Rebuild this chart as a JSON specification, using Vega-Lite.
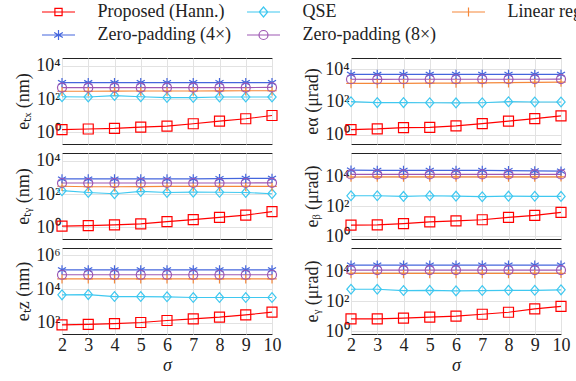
{
  "$schema": "https://vega.github.io/schema/vega-lite/v6.json",
  "padding": {"left": 14, "top": 3, "right": 2, "bottom": 2},
  "background": "white",
  "data": {"values": [
    {"p":"tx","s":2,"m":"Proposed (Hann.)","v":1.45},{"p":"tx","s":3,"m":"Proposed (Hann.)","v":1.6},{"p":"tx","s":4,"m":"Proposed (Hann.)","v":1.73},{"p":"tx","s":5,"m":"Proposed (Hann.)","v":2.07},{"p":"tx","s":6,"m":"Proposed (Hann.)","v":2.4},{"p":"tx","s":7,"m":"Proposed (Hann.)","v":3.3},{"p":"tx","s":8,"m":"Proposed (Hann.)","v":4.7},{"p":"tx","s":9,"m":"Proposed (Hann.)","v":6.6},{"p":"tx","s":10,"m":"Proposed (Hann.)","v":10.4},
    {"p":"tx","s":2,"m":"QSE","v":140},{"p":"tx","s":3,"m":"QSE","v":135},{"p":"tx","s":4,"m":"QSE","v":165},{"p":"tx","s":5,"m":"QSE","v":140},{"p":"tx","s":6,"m":"QSE","v":125},{"p":"tx","s":7,"m":"QSE","v":125},{"p":"tx","s":8,"m":"QSE","v":135},{"p":"tx","s":9,"m":"QSE","v":135},{"p":"tx","s":10,"m":"QSE","v":135},
    {"p":"tx","s":2,"m":"Linear regression","v":300},{"p":"tx","s":3,"m":"Linear regression","v":300},{"p":"tx","s":4,"m":"Linear regression","v":305},{"p":"tx","s":5,"m":"Linear regression","v":310},{"p":"tx","s":6,"m":"Linear regression","v":310},{"p":"tx","s":7,"m":"Linear regression","v":310},{"p":"tx","s":8,"m":"Linear regression","v":315},{"p":"tx","s":9,"m":"Linear regression","v":320},{"p":"tx","s":10,"m":"Linear regression","v":320},
    {"p":"tx","s":2,"m":"Zero-padding (4×)","v":1000},{"p":"tx","s":3,"m":"Zero-padding (4×)","v":980},{"p":"tx","s":4,"m":"Zero-padding (4×)","v":980},{"p":"tx","s":5,"m":"Zero-padding (4×)","v":1000},{"p":"tx","s":6,"m":"Zero-padding (4×)","v":990},{"p":"tx","s":7,"m":"Zero-padding (4×)","v":1000},{"p":"tx","s":8,"m":"Zero-padding (4×)","v":990},{"p":"tx","s":9,"m":"Zero-padding (4×)","v":1000},{"p":"tx","s":10,"m":"Zero-padding (4×)","v":1000},
    {"p":"tx","s":2,"m":"Zero-padding (8×)","v":500},{"p":"tx","s":3,"m":"Zero-padding (8×)","v":490},{"p":"tx","s":4,"m":"Zero-padding (8×)","v":490},{"p":"tx","s":5,"m":"Zero-padding (8×)","v":500},{"p":"tx","s":6,"m":"Zero-padding (8×)","v":500},{"p":"tx","s":7,"m":"Zero-padding (8×)","v":500},{"p":"tx","s":8,"m":"Zero-padding (8×)","v":500},{"p":"tx","s":9,"m":"Zero-padding (8×)","v":500},{"p":"tx","s":10,"m":"Zero-padding (8×)","v":510},

    {"p":"al","s":2,"m":"Proposed (Hann.)","v":2.1},{"p":"al","s":3,"m":"Proposed (Hann.)","v":2.3},{"p":"al","s":4,"m":"Proposed (Hann.)","v":2.77},{"p":"al","s":5,"m":"Proposed (Hann.)","v":2.9},{"p":"al","s":6,"m":"Proposed (Hann.)","v":3.5},{"p":"al","s":7,"m":"Proposed (Hann.)","v":4.8},{"p":"al","s":8,"m":"Proposed (Hann.)","v":6.8},{"p":"al","s":9,"m":"Proposed (Hann.)","v":9.7},{"p":"al","s":10,"m":"Proposed (Hann.)","v":14.2},
    {"p":"al","s":2,"m":"QSE","v":104},{"p":"al","s":3,"m":"QSE","v":92},{"p":"al","s":4,"m":"QSE","v":92},{"p":"al","s":5,"m":"QSE","v":90},{"p":"al","s":6,"m":"QSE","v":88},{"p":"al","s":7,"m":"QSE","v":90},{"p":"al","s":8,"m":"QSE","v":104},{"p":"al","s":9,"m":"QSE","v":100},{"p":"al","s":10,"m":"QSE","v":100},
    {"p":"al","s":2,"m":"Linear regression","v":1350},{"p":"al","s":3,"m":"Linear regression","v":1350},{"p":"al","s":4,"m":"Linear regression","v":1350},{"p":"al","s":5,"m":"Linear regression","v":1400},{"p":"al","s":6,"m":"Linear regression","v":1400},{"p":"al","s":7,"m":"Linear regression","v":1450},{"p":"al","s":8,"m":"Linear regression","v":1500},{"p":"al","s":9,"m":"Linear regression","v":1550},{"p":"al","s":10,"m":"Linear regression","v":1630},
    {"p":"al","s":2,"m":"Zero-padding (4×)","v":4800},{"p":"al","s":3,"m":"Zero-padding (4×)","v":4700},{"p":"al","s":4,"m":"Zero-padding (4×)","v":4750},{"p":"al","s":5,"m":"Zero-padding (4×)","v":4800},{"p":"al","s":6,"m":"Zero-padding (4×)","v":4800},{"p":"al","s":7,"m":"Zero-padding (4×)","v":4750},{"p":"al","s":8,"m":"Zero-padding (4×)","v":4800},{"p":"al","s":9,"m":"Zero-padding (4×)","v":4800},{"p":"al","s":10,"m":"Zero-padding (4×)","v":4800},
    {"p":"al","s":2,"m":"Zero-padding (8×)","v":2400},{"p":"al","s":3,"m":"Zero-padding (8×)","v":2350},{"p":"al","s":4,"m":"Zero-padding (8×)","v":2400},{"p":"al","s":5,"m":"Zero-padding (8×)","v":2400},{"p":"al","s":6,"m":"Zero-padding (8×)","v":2400},{"p":"al","s":7,"m":"Zero-padding (8×)","v":2400},{"p":"al","s":8,"m":"Zero-padding (8×)","v":2400},{"p":"al","s":9,"m":"Zero-padding (8×)","v":2400},{"p":"al","s":10,"m":"Zero-padding (8×)","v":2450},

    {"p":"ty","s":2,"m":"Proposed (Hann.)","v":1.18},{"p":"ty","s":3,"m":"Proposed (Hann.)","v":1.29},{"p":"ty","s":4,"m":"Proposed (Hann.)","v":1.42},{"p":"ty","s":5,"m":"Proposed (Hann.)","v":1.63},{"p":"ty","s":6,"m":"Proposed (Hann.)","v":2.2},{"p":"ty","s":7,"m":"Proposed (Hann.)","v":2.9},{"p":"ty","s":8,"m":"Proposed (Hann.)","v":4},{"p":"ty","s":9,"m":"Proposed (Hann.)","v":5.5},{"p":"ty","s":10,"m":"Proposed (Hann.)","v":8.8},
    {"p":"ty","s":2,"m":"QSE","v":162},{"p":"ty","s":3,"m":"QSE","v":126},{"p":"ty","s":4,"m":"QSE","v":106},{"p":"ty","s":5,"m":"QSE","v":146},{"p":"ty","s":6,"m":"QSE","v":126},{"p":"ty","s":7,"m":"QSE","v":132},{"p":"ty","s":8,"m":"QSE","v":130},{"p":"ty","s":9,"m":"QSE","v":126},{"p":"ty","s":10,"m":"QSE","v":106},
    {"p":"ty","s":2,"m":"Linear regression","v":300},{"p":"ty","s":3,"m":"Linear regression","v":280},{"p":"ty","s":4,"m":"Linear regression","v":280},{"p":"ty","s":5,"m":"Linear regression","v":285},{"p":"ty","s":6,"m":"Linear regression","v":290},{"p":"ty","s":7,"m":"Linear regression","v":290},{"p":"ty","s":8,"m":"Linear regression","v":290},{"p":"ty","s":9,"m":"Linear regression","v":290},{"p":"ty","s":10,"m":"Linear regression","v":290},
    {"p":"ty","s":2,"m":"Zero-padding (4×)","v":820},{"p":"ty","s":3,"m":"Zero-padding (4×)","v":820},{"p":"ty","s":4,"m":"Zero-padding (4×)","v":820},{"p":"ty","s":5,"m":"Zero-padding (4×)","v":820},{"p":"ty","s":6,"m":"Zero-padding (4×)","v":820},{"p":"ty","s":7,"m":"Zero-padding (4×)","v":840},{"p":"ty","s":8,"m":"Zero-padding (4×)","v":860},{"p":"ty","s":9,"m":"Zero-padding (4×)","v":900},{"p":"ty","s":10,"m":"Zero-padding (4×)","v":900},
    {"p":"ty","s":2,"m":"Zero-padding (8×)","v":470},{"p":"ty","s":3,"m":"Zero-padding (8×)","v":470},{"p":"ty","s":4,"m":"Zero-padding (8×)","v":470},{"p":"ty","s":5,"m":"Zero-padding (8×)","v":470},{"p":"ty","s":6,"m":"Zero-padding (8×)","v":470},{"p":"ty","s":7,"m":"Zero-padding (8×)","v":470},{"p":"ty","s":8,"m":"Zero-padding (8×)","v":470},{"p":"ty","s":9,"m":"Zero-padding (8×)","v":470},{"p":"ty","s":10,"m":"Zero-padding (8×)","v":480},

    {"p":"be","s":2,"m":"Proposed (Hann.)","v":5.4},{"p":"be","s":3,"m":"Proposed (Hann.)","v":5.7},{"p":"be","s":4,"m":"Proposed (Hann.)","v":6.9},{"p":"be","s":5,"m":"Proposed (Hann.)","v":9.1},{"p":"be","s":6,"m":"Proposed (Hann.)","v":10.6},{"p":"be","s":7,"m":"Proposed (Hann.)","v":12.5},{"p":"be","s":8,"m":"Proposed (Hann.)","v":18},{"p":"be","s":9,"m":"Proposed (Hann.)","v":24.6},{"p":"be","s":10,"m":"Proposed (Hann.)","v":39},
    {"p":"be","s":2,"m":"QSE","v":520},{"p":"be","s":3,"m":"QSE","v":520},{"p":"be","s":4,"m":"QSE","v":470},{"p":"be","s":5,"m":"QSE","v":520},{"p":"be","s":6,"m":"QSE","v":490},{"p":"be","s":7,"m":"QSE","v":450},{"p":"be","s":8,"m":"QSE","v":490},{"p":"be","s":9,"m":"QSE","v":480},{"p":"be","s":10,"m":"QSE","v":470},
    {"p":"be","s":2,"m":"Linear regression","v":9600},{"p":"be","s":3,"m":"Linear regression","v":9700},{"p":"be","s":4,"m":"Linear regression","v":9700},{"p":"be","s":5,"m":"Linear regression","v":9800},{"p":"be","s":6,"m":"Linear regression","v":9800},{"p":"be","s":7,"m":"Linear regression","v":9800},{"p":"be","s":8,"m":"Linear regression","v":9800},{"p":"be","s":9,"m":"Linear regression","v":9800},{"p":"be","s":10,"m":"Linear regression","v":9900},
    {"p":"be","s":2,"m":"Zero-padding (4×)","v":28000},{"p":"be","s":3,"m":"Zero-padding (4×)","v":27000},{"p":"be","s":4,"m":"Zero-padding (4×)","v":27000},{"p":"be","s":5,"m":"Zero-padding (4×)","v":27000},{"p":"be","s":6,"m":"Zero-padding (4×)","v":27000},{"p":"be","s":7,"m":"Zero-padding (4×)","v":27000},{"p":"be","s":8,"m":"Zero-padding (4×)","v":26000},{"p":"be","s":9,"m":"Zero-padding (4×)","v":25000},{"p":"be","s":10,"m":"Zero-padding (4×)","v":24000},
    {"p":"be","s":2,"m":"Zero-padding (8×)","v":14400},{"p":"be","s":3,"m":"Zero-padding (8×)","v":14400},{"p":"be","s":4,"m":"Zero-padding (8×)","v":14400},{"p":"be","s":5,"m":"Zero-padding (8×)","v":14400},{"p":"be","s":6,"m":"Zero-padding (8×)","v":14400},{"p":"be","s":7,"m":"Zero-padding (8×)","v":14400},{"p":"be","s":8,"m":"Zero-padding (8×)","v":14400},{"p":"be","s":9,"m":"Zero-padding (8×)","v":14400},{"p":"be","s":10,"m":"Zero-padding (8×)","v":14400},

    {"p":"tz","s":2,"m":"Proposed (Hann.)","v":78},{"p":"tz","s":3,"m":"Proposed (Hann.)","v":82},{"p":"tz","s":4,"m":"Proposed (Hann.)","v":93},{"p":"tz","s":5,"m":"Proposed (Hann.)","v":107},{"p":"tz","s":6,"m":"Proposed (Hann.)","v":140},{"p":"tz","s":7,"m":"Proposed (Hann.)","v":177},{"p":"tz","s":8,"m":"Proposed (Hann.)","v":220},{"p":"tz","s":9,"m":"Proposed (Hann.)","v":303},{"p":"tz","s":10,"m":"Proposed (Hann.)","v":432},
    {"p":"tz","s":2,"m":"QSE","v":4550},{"p":"tz","s":3,"m":"QSE","v":4700},{"p":"tz","s":4,"m":"QSE","v":3600},{"p":"tz","s":5,"m":"QSE","v":3600},{"p":"tz","s":6,"m":"QSE","v":3480},{"p":"tz","s":7,"m":"QSE","v":3160},{"p":"tz","s":8,"m":"QSE","v":3160},{"p":"tz","s":9,"m":"QSE","v":3160},{"p":"tz","s":10,"m":"QSE","v":3160},
    {"p":"tz","s":2,"m":"Linear regression","v":40000},{"p":"tz","s":3,"m":"Linear regression","v":40000},{"p":"tz","s":4,"m":"Linear regression","v":40000},{"p":"tz","s":5,"m":"Linear regression","v":40000},{"p":"tz","s":6,"m":"Linear regression","v":40000},{"p":"tz","s":7,"m":"Linear regression","v":40000},{"p":"tz","s":8,"m":"Linear regression","v":40000},{"p":"tz","s":9,"m":"Linear regression","v":40000},{"p":"tz","s":10,"m":"Linear regression","v":40000},
    {"p":"tz","s":2,"m":"Zero-padding (4×)","v":135000},{"p":"tz","s":3,"m":"Zero-padding (4×)","v":135000},{"p":"tz","s":4,"m":"Zero-padding (4×)","v":135000},{"p":"tz","s":5,"m":"Zero-padding (4×)","v":135000},{"p":"tz","s":6,"m":"Zero-padding (4×)","v":135000},{"p":"tz","s":7,"m":"Zero-padding (4×)","v":135000},{"p":"tz","s":8,"m":"Zero-padding (4×)","v":135000},{"p":"tz","s":9,"m":"Zero-padding (4×)","v":135000},{"p":"tz","s":10,"m":"Zero-padding (4×)","v":135000},
    {"p":"tz","s":2,"m":"Zero-padding (8×)","v":69000},{"p":"tz","s":3,"m":"Zero-padding (8×)","v":69000},{"p":"tz","s":4,"m":"Zero-padding (8×)","v":69000},{"p":"tz","s":5,"m":"Zero-padding (8×)","v":69000},{"p":"tz","s":6,"m":"Zero-padding (8×)","v":69000},{"p":"tz","s":7,"m":"Zero-padding (8×)","v":69000},{"p":"tz","s":8,"m":"Zero-padding (8×)","v":69000},{"p":"tz","s":9,"m":"Zero-padding (8×)","v":69000},{"p":"tz","s":10,"m":"Zero-padding (8×)","v":69000},

    {"p":"ga","s":2,"m":"Proposed (Hann.)","v":6.6},{"p":"ga","s":3,"m":"Proposed (Hann.)","v":6.6},{"p":"ga","s":4,"m":"Proposed (Hann.)","v":7.4},{"p":"ga","s":5,"m":"Proposed (Hann.)","v":8.6},{"p":"ga","s":6,"m":"Proposed (Hann.)","v":10},{"p":"ga","s":7,"m":"Proposed (Hann.)","v":13.6},{"p":"ga","s":8,"m":"Proposed (Hann.)","v":18.5},{"p":"ga","s":9,"m":"Proposed (Hann.)","v":31},{"p":"ga","s":10,"m":"Proposed (Hann.)","v":46},
    {"p":"ga","s":2,"m":"QSE","v":660},{"p":"ga","s":3,"m":"QSE","v":660},{"p":"ga","s":4,"m":"QSE","v":540},{"p":"ga","s":5,"m":"QSE","v":560},{"p":"ga","s":6,"m":"QSE","v":515},{"p":"ga","s":7,"m":"QSE","v":540},{"p":"ga","s":8,"m":"QSE","v":560},{"p":"ga","s":9,"m":"QSE","v":560},{"p":"ga","s":10,"m":"QSE","v":600},
    {"p":"ga","s":2,"m":"Linear regression","v":7700},{"p":"ga","s":3,"m":"Linear regression","v":7700},{"p":"ga","s":4,"m":"Linear regression","v":7700},{"p":"ga","s":5,"m":"Linear regression","v":7700},{"p":"ga","s":6,"m":"Linear regression","v":7700},{"p":"ga","s":7,"m":"Linear regression","v":7700},{"p":"ga","s":8,"m":"Linear regression","v":7700},{"p":"ga","s":9,"m":"Linear regression","v":7700},{"p":"ga","s":10,"m":"Linear regression","v":7800},
    {"p":"ga","s":2,"m":"Zero-padding (4×)","v":28000},{"p":"ga","s":3,"m":"Zero-padding (4×)","v":28000},{"p":"ga","s":4,"m":"Zero-padding (4×)","v":28000},{"p":"ga","s":5,"m":"Zero-padding (4×)","v":28000},{"p":"ga","s":6,"m":"Zero-padding (4×)","v":28000},{"p":"ga","s":7,"m":"Zero-padding (4×)","v":28000},{"p":"ga","s":8,"m":"Zero-padding (4×)","v":28000},{"p":"ga","s":9,"m":"Zero-padding (4×)","v":28000},{"p":"ga","s":10,"m":"Zero-padding (4×)","v":28000},
    {"p":"ga","s":2,"m":"Zero-padding (8×)","v":13000},{"p":"ga","s":3,"m":"Zero-padding (8×)","v":13000},{"p":"ga","s":4,"m":"Zero-padding (8×)","v":13000},{"p":"ga","s":5,"m":"Zero-padding (8×)","v":13000},{"p":"ga","s":6,"m":"Zero-padding (8×)","v":13000},{"p":"ga","s":7,"m":"Zero-padding (8×)","v":13000},{"p":"ga","s":8,"m":"Zero-padding (8×)","v":13000},{"p":"ga","s":9,"m":"Zero-padding (8×)","v":13000},{"p":"ga","s":10,"m":"Zero-padding (8×)","v":13000}
  ]},
  "columns": 2,
  "spacing": {"row": 9, "column": 79},
  "bounds": "flush",
  "resolve": {"scale": {"x": "independent", "y": "independent", "color": "shared", "shape": "shared", "size": "shared"}},
  "concat": [
    {"transform": [{"filter": "datum.p === 'tx'"}], "width": 210, "height": 86,
     "encoding": {
       "x": {"field": "s", "type": "quantitative", "scale": {"domain": [2, 10], "nice": false, "zero": false}, "axis": {"values": [2,3,4,5,6,7,8,9,10], "labels": false, "title": null, "domain": false}},
       "y": {"field": "v", "type": "quantitative", "scale": {"type": "log", "domain": [0.2, 30000], "nice": false}, "axis": {"values": [1, 100, 10000], "labelExpr": "datum.value == 1 ? '10⁰' : datum.value == 100 ? '10²' : datum.value == 10000 ? '10⁴' : '10⁶'", "title": "eₜₓ (nm)", "domain": false}},
       "color": {"field": "m", "type": "nominal", "scale": {"domain": ["Proposed (Hann.)", "QSE", "Linear regression", "Zero-padding (4×)", "Zero-padding (8×)"], "range": ["#ff0000", "#3fc8f0", "#f5883a", "#4466dd", "#9e58b3"]},
         "legend": {"orient": "none", "direction": "horizontal", "legendX": -24, "legendY": -55, "gridAlign": "none", "encode": {"symbols": {
           "update": {
             "shape": {"signal": "datum.value === 'Proposed (Hann.)' ? 'M-3.3,0H3.3M-0.72,-0.72H0.72V0.72H-0.72Z' : datum.value === 'QSE' ? 'M-3.3,0H3.3M-0.85,0L0,-1L0.85,0L0,1Z' : datum.value === 'Linear regression' ? 'M-3.3,0H3.3M0,-0.9V0.9' : datum.value === 'Zero-padding (4×)' ? 'M-3.3,0H3.3M0,-1V1M-0.87,-0.5L0.87,0.5M-0.87,0.5L0.87,-0.5' : 'M-3.3,0H3.3M0.9,0A0.9,0.9 0 1,1 -0.9,0A0.9,0.9 0 1,1 0.9,0'"},
             "size": {"value": 100},
             "fill": {"value": "transparent"},
             "stroke": {"scale": "color", "field": "value"},
             "strokeWidth": {"value": 1.2}
           },
           "shape": {"value": {"expr": "datum.value === 'Proposed (Hann.)' ? 'M-3.3,0H3.3M-0.72,-0.72H0.72V0.72H-0.72Z' : datum.value === 'QSE' ? 'M-3.3,0H3.3M-0.85,0L0,-1L0.85,0L0,1Z' : datum.value === 'Linear regression' ? 'M-3.3,0H3.3M0,-0.9V0.9' : datum.value === 'Zero-padding (4×)' ? 'M-3.3,0H3.3M0,-1V1M-0.87,-0.5L0.87,0.5M-0.87,0.5L0.87,-0.5' : 'M-3.3,0H3.3M0.9,0A0.9,0.9 0 1,1 -0.9,0A0.9,0.9 0 1,1 0.9,0'"}}
         }}}}
     },
     "layer": [
       {"mark": {"type": "line", "strokeWidth": 1.2}},
       {"mark": {"type": "point", "filled": false, "strokeWidth": 1.2, "opacity": 1}, "encoding": {
         "shape": {"field": "m", "type": "nominal", "legend": null, "scale": {"domain": ["Zero-padding (8×)", "Zero-padding (4×)", "Linear regression", "QSE", "Proposed (Hann.)"], "range": ["circle", "M0,-1V1M-0.87,-0.5L0.87,0.5M-0.87,0.5L0.87,-0.5", "M-1,0H1M0,-1V1", "M-0.85,0L0,-1L0.85,0L0,1Z", "square"]}},
         "size": {"field": "m", "type": "nominal", "legend": null, "scale": {"domain": ["Zero-padding (8×)", "Zero-padding (4×)", "Linear regression", "QSE", "Proposed (Hann.)"], "range": [81, 100, 81, 100, 53]}}}}
     ]},
    {"transform": [{"filter": "datum.p === 'al'"}], "width": 210, "height": 86,
     "encoding": {
       "x": {"field": "s", "type": "quantitative", "scale": {"domain": [2, 10], "nice": false, "zero": false}, "axis": {"values": [2,3,4,5,6,7,8,9,10], "labels": false, "title": null, "domain": false}},
       "y": {"field": "v", "type": "quantitative", "scale": {"type": "log", "domain": [0.28, 47000], "nice": false}, "axis": {"values": [1, 100, 10000], "labelExpr": "datum.value == 1 ? '10⁰' : datum.value == 100 ? '10²' : datum.value == 10000 ? '10⁴' : '10⁶'", "title": "eα (μrad)", "domain": false}},
       "color": {"field": "m", "type": "nominal"}
     },
     "layer": [
       {"mark": {"type": "line", "strokeWidth": 1.2}},
       {"mark": {"type": "point", "filled": false, "strokeWidth": 1.2, "opacity": 1}, "encoding": {"shape": {"field": "m", "type": "nominal", "legend": null}, "size": {"field": "m", "type": "nominal", "legend": null}}}
     ]},
    {"transform": [{"filter": "datum.p === 'ty'"}], "width": 210, "height": 86,
     "encoding": {
       "x": {"field": "s", "type": "quantitative", "scale": {"domain": [2, 10], "nice": false, "zero": false}, "axis": {"values": [2,3,4,5,6,7,8,9,10], "labels": false, "title": null, "domain": false}},
       "y": {"field": "v", "type": "quantitative", "scale": {"type": "log", "domain": [0.2, 30000], "nice": false}, "axis": {"values": [1, 100, 10000], "labelExpr": "datum.value == 1 ? '10⁰' : datum.value == 100 ? '10²' : datum.value == 10000 ? '10⁴' : '10⁶'", "title": "eₜᵧ (nm)", "domain": false}},
       "color": {"field": "m", "type": "nominal"}
     },
     "layer": [
       {"mark": {"type": "line", "strokeWidth": 1.2}},
       {"mark": {"type": "point", "filled": false, "strokeWidth": 1.2, "opacity": 1}, "encoding": {"shape": {"field": "m", "type": "nominal", "legend": null}, "size": {"field": "m", "type": "nominal", "legend": null}}}
     ]},
    {"transform": [{"filter": "datum.p === 'be'"}], "width": 210, "height": 86,
     "encoding": {
       "x": {"field": "s", "type": "quantitative", "scale": {"domain": [2, 10], "nice": false, "zero": false}, "axis": {"values": [2,3,4,5,6,7,8,9,10], "labels": false, "title": null, "domain": false}},
       "y": {"field": "v", "type": "quantitative", "scale": {"type": "log", "domain": [0.63, 400000], "nice": false}, "axis": {"values": [1, 100, 10000], "labelExpr": "datum.value == 1 ? '10⁰' : datum.value == 100 ? '10²' : datum.value == 10000 ? '10⁴' : '10⁶'", "title": "eᵦ (μrad)", "domain": false}},
       "color": {"field": "m", "type": "nominal"}
     },
     "layer": [
       {"mark": {"type": "line", "strokeWidth": 1.2}},
       {"mark": {"type": "point", "filled": false, "strokeWidth": 1.2, "opacity": 1}, "encoding": {"shape": {"field": "m", "type": "nominal", "legend": null}, "size": {"field": "m", "type": "nominal", "legend": null}}}
     ]},
    {"transform": [{"filter": "datum.p === 'tz'"}], "width": 210, "height": 86,
     "encoding": {
       "x": {"field": "s", "type": "quantitative", "scale": {"domain": [2, 10], "nice": false, "zero": false}, "axis": {"values": [2,3,4,5,6,7,8,9,10], "title": "σ", "titleFontStyle": "italic", "domain": false}},
       "y": {"field": "v", "type": "quantitative", "scale": {"type": "log", "domain": [22.5, 2600000], "nice": false}, "axis": {"values": [100, 10000, 1000000], "labelExpr": "datum.value == 1 ? '10⁰' : datum.value == 100 ? '10²' : datum.value == 10000 ? '10⁴' : '10⁶'", "title": "eₜz (nm)", "domain": false}},
       "color": {"field": "m", "type": "nominal"}
     },
     "layer": [
       {"mark": {"type": "line", "strokeWidth": 1.2}},
       {"mark": {"type": "point", "filled": false, "strokeWidth": 1.2, "opacity": 1}, "encoding": {"shape": {"field": "m", "type": "nominal", "legend": null}, "size": {"field": "m", "type": "nominal", "legend": null}}}
     ]},
    {"transform": [{"filter": "datum.p === 'ga'"}], "width": 210, "height": 86,
     "encoding": {
       "x": {"field": "s", "type": "quantitative", "scale": {"domain": [2, 10], "nice": false, "zero": false}, "axis": {"values": [2,3,4,5,6,7,8,9,10], "title": "σ", "titleFontStyle": "italic", "domain": false}},
       "y": {"field": "v", "type": "quantitative", "scale": {"type": "log", "domain": [0.63, 400000], "nice": false}, "axis": {"values": [1, 100, 10000], "labelExpr": "datum.value == 1 ? '10⁰' : datum.value == 100 ? '10²' : datum.value == 10000 ? '10⁴' : '10⁶'", "title": "eᵧ (μrad)", "domain": false}},
       "color": {"field": "m", "type": "nominal"}
     },
     "layer": [
       {"mark": {"type": "line", "strokeWidth": 1.2}},
       {"mark": {"type": "point", "filled": false, "strokeWidth": 1.2, "opacity": 1}, "encoding": {"shape": {"field": "m", "type": "nominal", "legend": null}, "size": {"field": "m", "type": "nominal", "legend": null}}}
     ]}
  ],
  "config": {
    "font": "Liberation Serif",
    "view": {"stroke": "#222", "strokeWidth": 1},
    "axis": {"labelFont": "Liberation Serif", "labelFontSize": 18, "labelColor": "#222", "titleFont": "Liberation Serif", "titleFontSize": 18, "titleFontWeight": "normal", "titleColor": "#222", "ticks": false, "labelPadding": 2, "labelFlush": false, "gridColor": "#e2e2e2", "gridWidth": 1},
    "axisY": {"titlePadding": 3},
    "axisX": {"titlePadding": 2},
    "legend": {
      "columns": 3, "title": null, "labelFont": "Liberation Serif", "labelFontSize": 18, "labelColor": "#222", "labelLimit": 300,
      "symbolSize": 100, "symbolOffset": 11.5, "symbolStrokeWidth": 1.2, "symbolFillColor": "transparent", "labelOffset": 30, "columnPadding": 11, "rowPadding": 5
    }
  },
  "encoding": {}
}
